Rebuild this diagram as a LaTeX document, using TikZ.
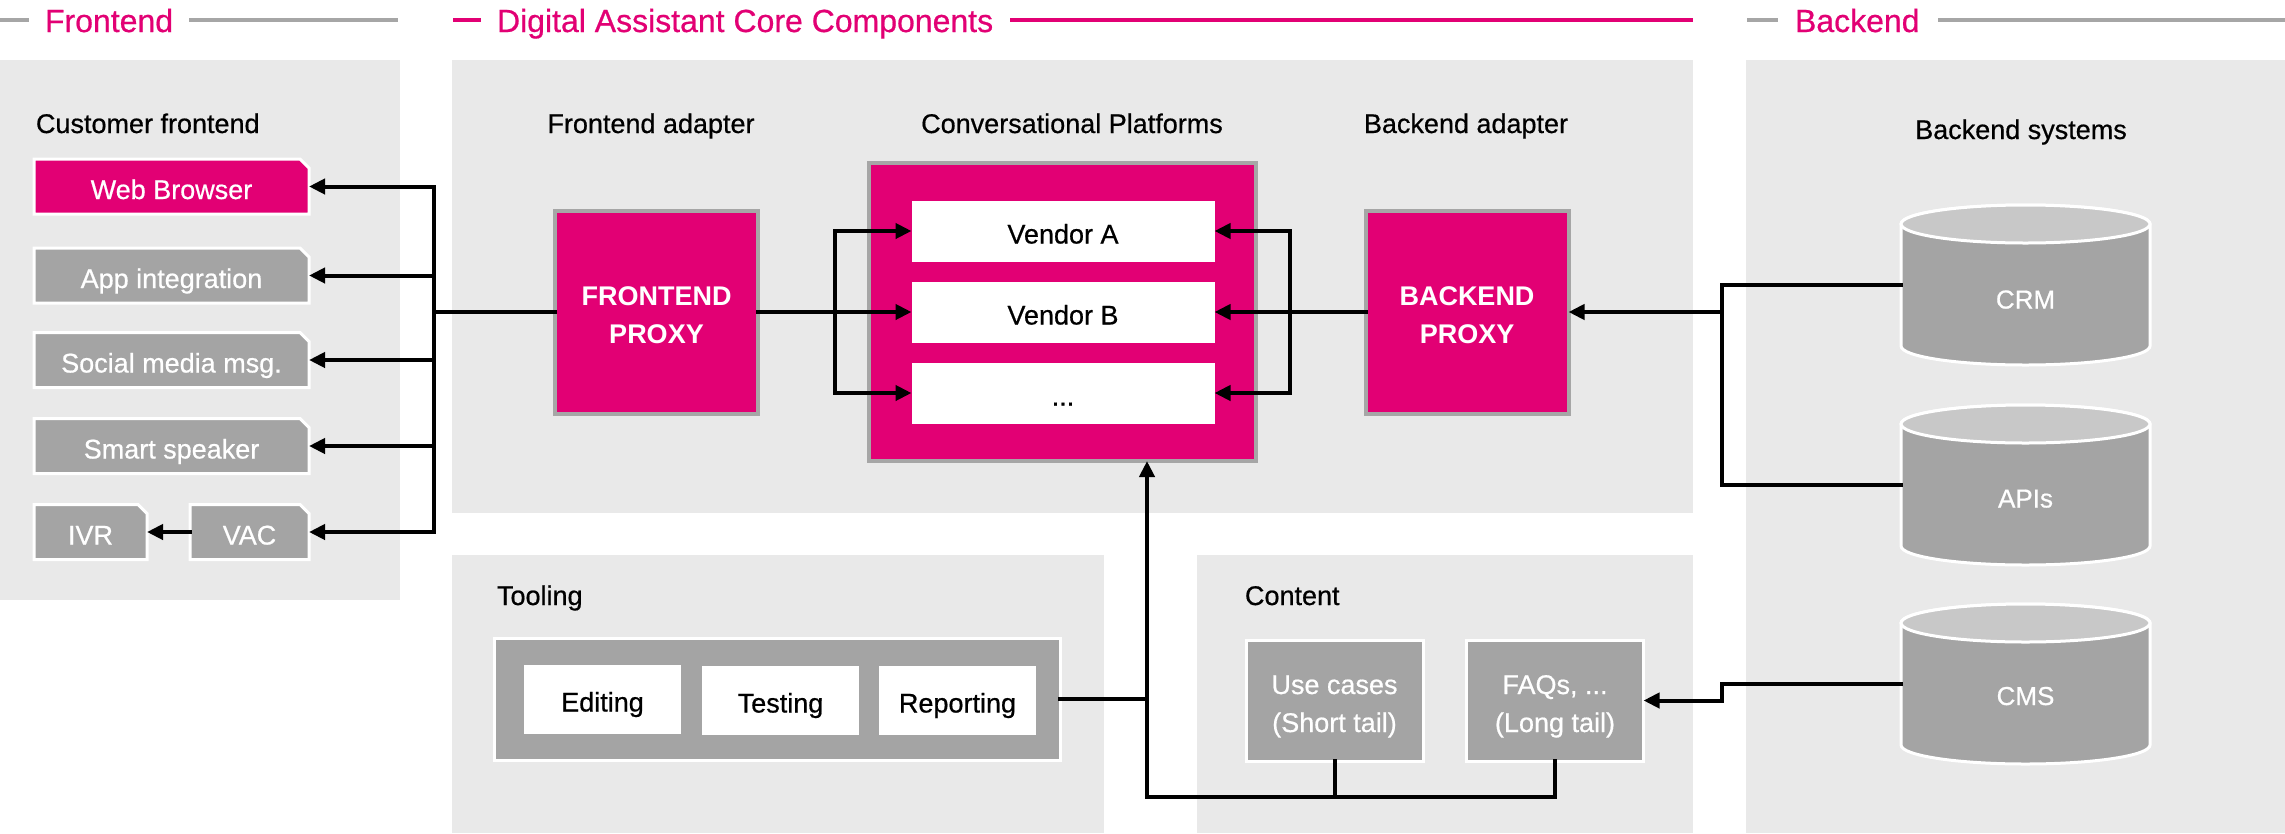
\documentclass[tikz,border=0pt]{standalone}
\usepackage{fontspec}
\setmainfont{Liberation Sans}
\newfontface\dmed{Liberation Sans}[FakeBold=0.6]
\usetikzlibrary{arrows.meta,backgrounds}
\definecolor{mag}{HTML}{E20074}
\definecolor{boxgray}{HTML}{A4A4A4}
\definecolor{topgray}{HTML}{C8C8C8}
\definecolor{linegray}{HTML}{A6A6A6}
\definecolor{panelbg}{HTML}{E9E9E9}
\newcommand{\dlbl}{\dmed\fontsize{27pt}{38pt}\selectfont}
\newcommand{\dhdr}{\dmed\fontsize{32pt}{38pt}\selectfont}
\newcommand{\dcyl}{\dmed\fontsize{26pt}{32pt}\selectfont}
\newcommand{\chbox}[2]{\path[fill=#2, draw=white, line width=3pt] (#1.south west) -- (#1.north west) -- ([xshift=-9pt]#1.north east) -- ([yshift=-9pt]#1.north east) -- (#1.south east) -- cycle;}
\newcommand{\cylshape}[1]{%
  \path[fill=boxgray, draw=white, line width=3pt] ([yshift=-19pt]#1.north west) -- ([yshift=19pt]#1.south west) arc[start angle=180, end angle=360, x radius=124.5pt, y radius=19pt] -- ([yshift=-19pt]#1.north east) arc[start angle=0, end angle=180, x radius=124.5pt, y radius=19pt] -- cycle;
  \path[fill=topgray, draw=white, line width=3pt] ([yshift=-19pt]#1.north) ellipse[x radius=124.5pt, y radius=19pt];}
\begin{document}
\begin{tikzpicture}[x=1pt,y=-1pt,
  every node/.style={font=\dlbl, inner sep=0pt, outer sep=0pt},
  hline/.style={line width=4pt, draw=linegray},
  mline/.style={line width=4pt, draw=mag},
  hdrtext/.style={font=\dhdr, text=mag, anchor=base west},
  sectitle/.style={anchor=base, text=black},
  onel/.style={text height=25pt, text depth=0pt},
  twol/.style={text height=63pt, text depth=0pt, align=center},
  fb/.style={onel, minimum width=275pt, minimum height=55pt, text=white},
  proxy/.style={twol, fill=mag, draw=linegray, line width=4pt, minimum width=203pt, minimum height=203pt, text=white, font=\fontsize{27pt}{38pt}\selectfont\bfseries},
  vbox/.style={onel, fill=white, minimum width=303pt, minimum height=61pt, text=black},
  wbox/.style={onel, fill=white, minimum width=157pt, minimum height=69pt, text=black},
  gbox/.style={twol, fill=boxgray, draw=white, line width=3pt, minimum width=177pt, minimum height=121pt, text=white},
  cylnode/.style={minimum width=249pt, minimum height=160pt},
  cyltext/.style={onel, font=\dcyl, text=white},
  conn/.style={line width=4pt, draw=black, line cap=rect},
  arr/.style={conn, -{Triangle[length=16pt,width=15pt]}}
]
\useasboundingbox (0,0) rectangle (2285,833);
\begin{scope}[on background layer]
  \fill[white] (0,0) rectangle (2285,833);
  \fill[panelbg] (0,60) rectangle (400,600);
  \fill[panelbg] (452,60) rectangle (1693,513);
  \fill[panelbg] (452,555) rectangle (1104,833);
  \fill[panelbg] (1197,555) rectangle (1693,833);
  \fill[panelbg] (1746,60) rectangle (2285,833);
\end{scope}

% headers
\draw[hline] (0,20) -- (29,20);
\node[hdrtext] (hfront) at (45,32) {Frontend};
\draw[hline] (189,20) -- (398,20);
\draw[mline] (453,20) -- (481,20);
\node[hdrtext] (hcore) at (497,32) {Digital Assistant Core Components};
\draw[mline] (1010,20) -- (1693,20);
\draw[hline] (1747,20) -- (1778,20);
\node[hdrtext] (hback) at (1795,32) {Backend};
\draw[hline] (1938,20) -- (2285,20);

% section titles
\node[sectitle, anchor=base west] (tcust) at (36,133) {Customer frontend};
\node[sectitle] (tfa) at (651,133) {Frontend adapter};
\node[sectitle] (tcp) at (1072,133) {Conversational Platforms};
\node[sectitle] (tba) at (1466,133) {Backend adapter};
\node[sectitle] (tbs) at (2021,139) {Backend systems};
\node[sectitle, anchor=base west] (ttool) at (497,605) {Tooling};
\node[sectitle, anchor=base west] (tcont) at (1245,605) {Content};

% frontend boxes
\node[fb] (web) at (171.5,186.5) {Web Browser};
\node[fb] (app) at (171.5,275.5) {App integration};
\node[fb] (social) at (171.5,360) {Social media msg.};
\node[fb] (smart) at (171.5,446) {Smart speaker};
\node[fb, minimum width=113pt] (ivr) at (90.5,532) {IVR};
\node[fb, minimum width=119pt] (vac) at (249.5,532) {VAC};
\begin{scope}[on background layer]
  \chbox{web}{mag}
  \chbox{app}{boxgray}
  \chbox{social}{boxgray}
  \chbox{smart}{boxgray}
  \chbox{ivr}{boxgray}
  \chbox{vac}{boxgray}
\end{scope}

% core
\node[proxy] (fproxy) at (656.5,312) {FRONTEND\\PROXY};
\node[fill=mag, draw=linegray, line width=4pt, minimum width=387pt, minimum height=298pt] (conv) at (1062,312) {};
\node[vbox] (vA) at (1063,231) {Vendor A};
\node[vbox] (vB) at (1063,312) {Vendor B};
\node[vbox] (vD) at (1063,393) {...};
\node[proxy] (bproxy) at (1467,312) {BACKEND\\PROXY};

% tooling
\node[fill=boxgray, draw=white, line width=3pt, minimum width=566pt, minimum height=122pt] (tool) at (777,699) {};
\node[wbox] (edit) at (602.5,699) {Editing};
\node[wbox] (test) at (780.5,700) {Testing};
\node[wbox] (report) at (957.5,700) {Reporting};

% content
\node[gbox] (uc) at (1334.5,700.5) {Use cases\\(Short tail)};
\node[gbox] (faqs) at (1555,700.5) {FAQs, ...\\(Long tail)};

% backend cylinders
\node[cylnode] (crm) at (2025.5,285) {};
\node[cylnode] (apis) at (2025.5,485) {};
\node[cylnode] (cms) at (2025.5,684) {};
\begin{scope}[on background layer]
  \cylshape{crm}
  \cylshape{apis}
  \cylshape{cms}
\end{scope}
\node[cyltext] (crmt) at (2025.5,296) {CRM};
\node[cyltext] (apist) at (2025.5,495) {APIs};
\node[cyltext] (cmst) at (2025.5,692.5) {CMS};

% connectors: frontend bus
\coordinate (bus) at (434,312);
\draw[conn] (fproxy.west) -- (bus);
\draw[conn] (bus |- web.east) -- (bus |- vac.east);
\foreach \n in {web,app,social,smart,vac} \draw[arr] (bus |- \n.east) -- (\n.east);
\draw[arr] (vac.west) -- (ivr.east);

% frontend proxy to vendors
\coordinate (ls) at (835,312);
\draw[arr] (fproxy.east) -- (vB.west);
\draw[conn] (ls |- vA.west) -- (ls |- vD.west);
\draw[arr] (ls |- vA.west) -- (vA.west);
\draw[arr] (ls |- vD.west) -- (vD.west);

% backend proxy to vendors
\coordinate (rsp) at (1290,312);
\draw[arr] (bproxy.west) -- (vB.east);
\draw[conn] (rsp |- vA.east) -- (rsp |- vD.east);
\draw[arr] (rsp |- vA.east) -- (vA.east);
\draw[arr] (rsp |- vD.east) -- (vD.east);

% backend systems to backend proxy
\coordinate (rs) at (1722,312);
\draw[conn] (crm.west) -- (crm.west -| rs) -- (apis.west -| rs) -- (apis.west);
\draw[arr] (rs) -- (bproxy.east);

% CMS to FAQs
\coordinate (cs) at (1722,700.5);
\draw[arr] (cms.west) -- (cms.west -| cs) -- (cs) -- (faqs.east);

% tooling / content to platforms
\coordinate (trunk) at (1147,797);
\draw[conn] (faqs.south) |- (trunk);
\draw[conn] (uc.south) -- (uc.south |- trunk);
\draw[conn] (tool.east) -- (tool.east -| trunk);
\draw[arr] (trunk) -- (trunk |- conv.south);
\end{tikzpicture}
\end{document}
